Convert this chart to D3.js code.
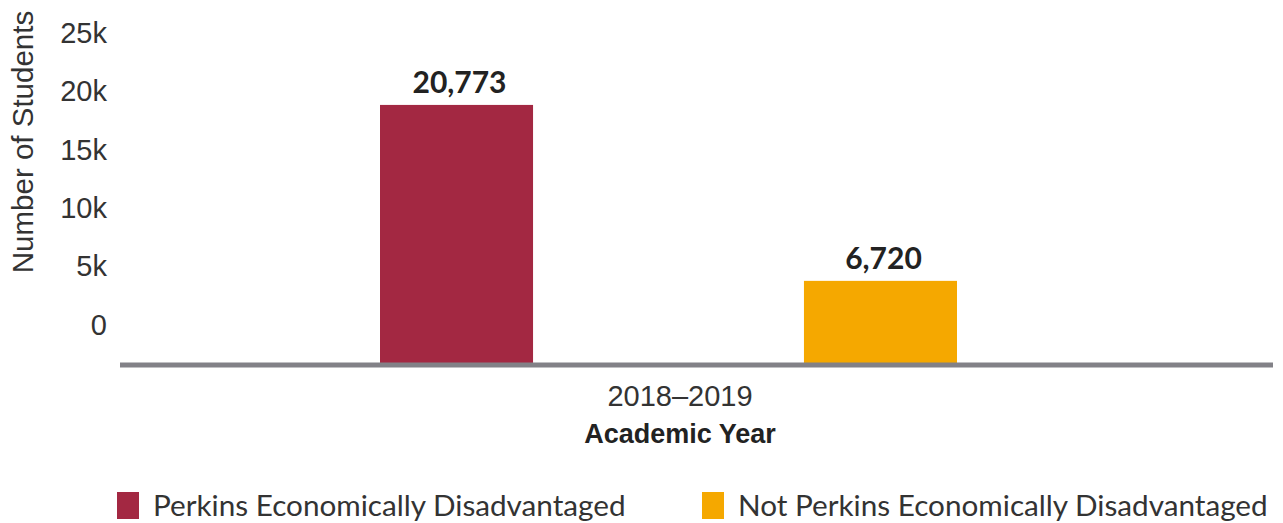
<!DOCTYPE html>
<html>
<head>
<meta charset="utf-8">
<script src="https://cdn.jsdelivr.net/npm/d3@7"></script>
<style>
  html, body { margin: 0; padding: 0; background: #fff; }
  svg { display: block; }
</style>
</head>
<body>
<svg id="chart" width="1283" height="523"></svg>
<script>
// Enrollment by Perkins economic status
const years = ["2018-2019"];
const seriesNames = ["Perkins Economically Disadvantaged", "Not Perkins Economically Disadvantaged"];
const seriesColors = ["#a32842", "#f5a800"];
const perkinsValues = [20773];
const notPerkinsValues = [6720];
const tickValues = [0, 5000, 10000, 15000, 20000, 25000];
const tickLabels = ["0", "5k", "10k", "15k", "20k", "25k"];

const svg = d3.select("#chart");

const rows = years.map((yr, i) => ({
  year: yr,
  values: [perkinsValues[i], notPerkinsValues[i]]
}));

// scales
const x0 = d3.scaleBand().domain(years).range([120, 1217]);
const x1 = d3.scaleBand().domain(d3.range(seriesNames.length))
  .range([260, 837]).paddingInner(0.639).paddingOuter(0);
const y = d3.scaleLinear().domain([0, 25000]).range([365, 52]);
// tick label placement along the value axis
const yTick = d3.scaleLinear().domain([0, 25000]).range([325, 33]);

// value axis labels
const yAxis = svg.append("g")
  .attr("transform", "translate(107,0)")
  .call(d3.axisLeft(yTick).tickValues(tickValues)
    .tickFormat((d, i) => tickLabels[i]).tickSize(0).tickPadding(0));
yAxis.select(".domain").remove();
yAxis.selectAll("text")
  .attr("font-family", "'Liberation Sans', Arial, sans-serif")
  .attr("font-size", 29)
  .attr("fill", "#333");

svg.append("text")
  .attr("transform", "translate(33,142) rotate(-90)")
  .attr("text-anchor", "middle")
  .attr("font-family", "'Liberation Sans', Arial, sans-serif")
  .attr("font-size", 29.5)
  .attr("fill", "#333")
  .text("Number of Students");

// bars
const groups = svg.selectAll("g.grp").data(rows).enter().append("g")
  .attr("class", "grp")
  .attr("transform", d => `translate(${x0(d.year)},0)`);

groups.selectAll("rect").data(d => d.values).enter().append("rect")
  .attr("x", (d, i) => x1(i))
  .attr("width", x1.bandwidth())
  .attr("y", d => y(d))
  .attr("height", d => y(0) - y(d))
  .attr("fill", (d, i) => seriesColors[i]);

groups.selectAll("text.val").data(d => d.values).enter().append("text")
  .attr("class", "val")
  .attr("x", (d, i) => x1(i) + x1.bandwidth() / 2 + 3)
  .attr("y", d => y(d) - 12)
  .attr("text-anchor", "middle")
  .attr("font-family", "Lato, 'Liberation Sans', sans-serif")
  .attr("font-weight", "bold")
  .attr("font-size", 30)
  .attr("fill", "#222")
  .text(d => d3.format(",")(d));

// baseline
svg.append("line")
  .attr("x1", 120).attr("x2", 1273)
  .attr("y1", y(0)).attr("y2", y(0))
  .attr("stroke", "#828187").attr("stroke-width", 5);

// category axis
svg.selectAll("text.cat").data(years).enter().append("text")
  .attr("class", "cat")
  .attr("x", 680)
  .attr("y", 406)
  .attr("text-anchor", "middle")
  .attr("font-family", "'Liberation Sans', Arial, sans-serif")
  .attr("font-size", 29)
  .attr("fill", "#333")
  .text(d => d.replace("-", "–"));

svg.append("text")
  .attr("x", 680)
  .attr("y", 443)
  .attr("text-anchor", "middle")
  .attr("font-family", "'Liberation Sans', Arial, sans-serif")
  .attr("font-weight", "bold")
  .attr("font-size", 27)
  .attr("fill", "#222")
  .text("Academic Year");

// legend
const legendX = [117, 702];
const legend = svg.selectAll("g.leg").data(seriesNames).enter().append("g")
  .attr("class", "leg")
  .attr("transform", (d, i) => `translate(${legendX[i]},492)`);
legend.append("rect")
  .attr("width", 22).attr("height", 27)
  .attr("fill", (d, i) => seriesColors[i]);
legend.append("text")
  .attr("x", 36).attr("y", 24)
  .attr("font-family", "Lato, 'Liberation Sans', sans-serif")
  .attr("font-size", 29.7)
  .attr("fill", "#333")
  .text(d => d);
</script>
</body>
</html>
